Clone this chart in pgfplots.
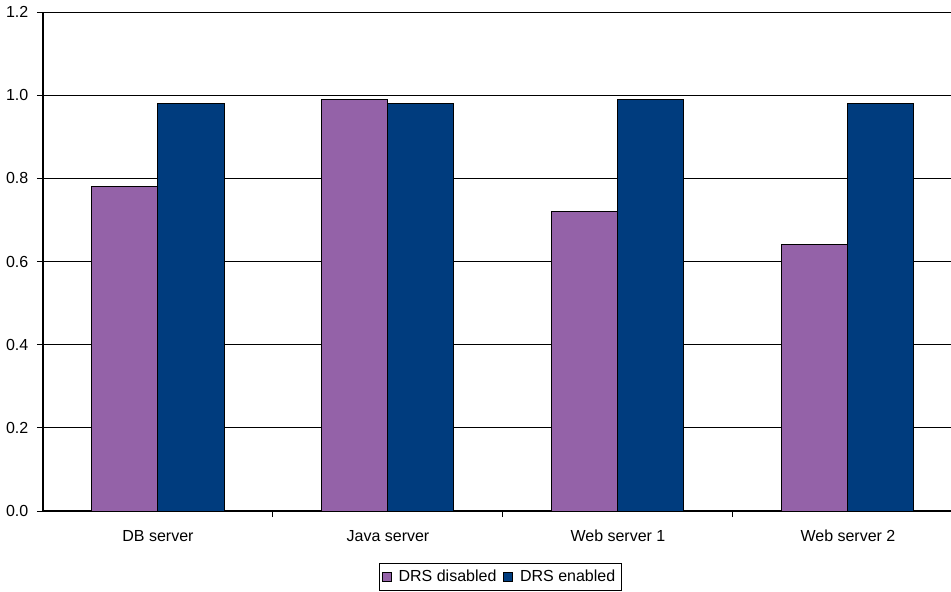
\documentclass[border=0pt]{standalone}
\usepackage{fontspec}
\setmainfont{Liberation Sans}
\usepackage{pgfplots}
\pgfplotsset{compat=1.18}
\definecolor{drsoff}{RGB}{148,98,168}
\definecolor{drson}{RGB}{0,60,126}
\begin{document}
\begin{tikzpicture}[x=1pt,y=1pt]
% page frame: 951 x 591 units of 0.5pt, axis box anchored at the origin
\path[use as bounding box] (-21.5,-40) rectangle (454,255.5);
\begin{axis}[
  scale only axis,
  width=454pt, height=249.5pt,
  xmin=-0.5, xmax=3.448,
  ymin=0, ymax=1.2,
  axis x line*=bottom,
  axis y line*=left,
  axis line style={black, line width=0.6pt},
  ytick={0,0.2,0.4,0.6,0.8,1.0,1.2},
  ymajorgrids,
  grid style={black, line width=0.5pt},
  yticklabel style={/pgf/number format/fixed, /pgf/number format/fixed zerofill,
    /pgf/number format/precision=1, /pgf/number format/assume math mode=true},
  xtick={0,1,2,3},
  xticklabels={DB server, Java server, Web server 1, Web server 2},
  major x tick style={draw=none},
  minor xtick={0.5,1.5,2.5},
  tick align=outside,
  major tick length=3pt,
  minor tick length=3pt,
  tick style={black, line width=0.5pt},
  every tick label/.append style={font=\fontsize{8}{9}\selectfont},
  xticklabel style={yshift=-3pt},
  yticklabel style={xshift=-0.8pt},
  ybar,
  bar width=0.287,
  legend style={at={(0.504,-0.104)}, anchor=north, legend columns=2,
    draw=black, line width=0.5pt, font=\fontsize{8}{9}\selectfont,
    inner sep=1.2pt, column sep=1.5pt,
    /tikz/every even column/.append style={column sep=1.5pt}},
  legend image code/.code={\draw[#1, draw=black, line width=0.4pt] (0pt,-2.2pt) rectangle (4.4pt,2.2pt);},
  clip=false,
]
\addplot[fill=drsoff, draw=black, line width=0.5pt, bar shift=-0.1435]
  coordinates {(0,0.78) (1,0.99) (2,0.72) (3,0.64)};
\addplot[fill=drson, draw=black, line width=0.5pt, bar shift=0.1435]
  coordinates {(0,0.98) (1,0.98) (2,0.99) (3,0.98)};
\legend{DRS disabled, DRS enabled}
\end{axis}
\end{tikzpicture}
\end{document}
